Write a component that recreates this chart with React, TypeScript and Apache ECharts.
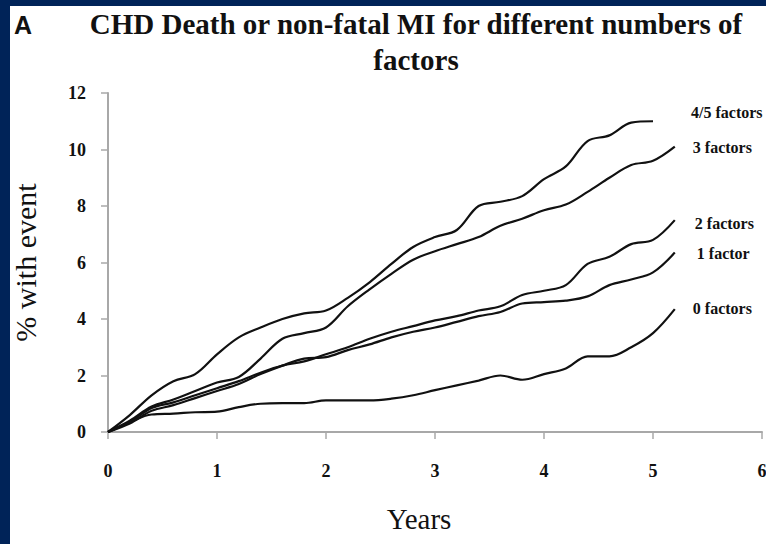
import React, { useEffect, useRef } from "react";
import * as echarts from "echarts";

// Follow-up time in years
const years = [
  0, 0.2, 0.4, 0.6, 0.8, 1.0, 1.2, 1.4, 1.6, 1.8, 2.0, 2.2, 2.4, 2.6, 2.8,
  3.0, 3.2, 3.4, 3.6, 3.8, 4.0, 4.2, 4.4, 4.6, 4.8, 5.0, 5.2,
];

// Cumulative % with event per number of risk factors
const factors45 = [
  0, 0.6, 1.3, 1.8, 2.05, 2.75, 3.35, 3.7, 4.0, 4.2, 4.3, 4.75, 5.3, 5.95, 6.55,
  6.9, 7.15, 8.0, 8.15, 8.35, 8.95, 9.4, 10.3, 10.5, 10.95, 11.0,
];
const factors3 = [
  0, 0.4, 0.9, 1.15, 1.45, 1.75, 1.95, 2.6, 3.3, 3.5, 3.7, 4.45, 5.05, 5.6, 6.1,
  6.4, 6.65, 6.9, 7.3, 7.55, 7.85, 8.05, 8.5, 9.0, 9.45, 9.6, 10.1,
];
const factors2 = [
  0, 0.35, 0.85, 1.05, 1.3, 1.55, 1.8, 2.1, 2.35, 2.5, 2.75, 3.0, 3.3, 3.55,
  3.75, 3.95, 4.1, 4.3, 4.45, 4.85, 5.0, 5.2, 5.95, 6.2, 6.65, 6.8, 7.5,
];
const factors1 = [
  0, 0.3, 0.75, 0.95, 1.2, 1.45, 1.7, 2.05, 2.35, 2.6, 2.65, 2.9, 3.1, 3.35,
  3.55, 3.7, 3.9, 4.1, 4.25, 4.55, 4.6, 4.65, 4.8, 5.2, 5.4, 5.65, 6.35,
];
const factors0 = [
  0, 0.35, 0.62, 0.65, 0.7, 0.72, 0.88, 1.0, 1.02, 1.02, 1.12, 1.12, 1.12, 1.18,
  1.3, 1.48, 1.65, 1.82, 2.0, 1.85, 2.05, 2.25, 2.68, 2.68, 3.0, 3.5, 4.35,
];

const curveNames = ["4/5 factors", "3 factors", "2 factors", "1 factor", "0 factors"];
const curveValues = [factors45, factors3, factors2, factors1, factors0];
const labelOffsets: [number, number][] = [
  [38, -9],
  [18, 1],
  [20, 3],
  [22, 1],
  [18, -1],
];

const xTicks = [0, 1, 2, 3, 4, 5, 6];
const yTicks = [0, 2, 4, 6, 8, 10, 12];

const SERIF = '"Liberation Serif", "Times New Roman", serif';
const INK = "#111111";
const AXIS = "#a8a8a8";

export default function App() {
  const ref = useRef<HTMLDivElement>(null);

  useEffect(() => {
    if (!ref.current) return;
    const chart = echarts.init(ref.current, null, { renderer: "svg" });

    const series = curveValues.map((vals, i) => ({
      name: curveNames[i],
      type: "line",
      data: vals.map((v, j) => [years[j], v]),
      smooth: 0.35,
      showSymbol: false,
      symbol: "none",
      lineStyle: { color: INK, width: 2.2 },
      endLabel: {
        show: true,
        formatter: curveNames[i],
        distance: 0,
        offset: labelOffsets[i],
        fontFamily: SERIF,
        fontWeight: "bold",
        fontSize: 16,
        color: INK,
      },
    }));

    chart.setOption({
      animation: false,
      backgroundColor: "#ffffff",
      title: [
        {
          text: "CHD Death or non-fatal MI for different numbers of\nfactors",
          left: 406,
          top: 0,
          padding: 0,
          textAlign: "center",
          textStyle: {
            fontFamily: SERIF,
            fontWeight: "bold",
            fontSize: 29,
            lineHeight: 36,
            color: INK,
          },
        },
        {
          text: "A",
          left: 4,
          top: 6,
          padding: 0,
          textStyle: {
            fontFamily: '"Liberation Sans", Arial, sans-serif',
            fontWeight: "bold",
            fontSize: 25,
            color: INK,
          },
        },
      ],
      grid: {
        left: 98,
        top: 87,
        right: 4,
        bottom: 112,
        containLabel: false,
        outerBoundsMode: "none",
      },
      xAxis: {
        type: "value",
        min: xTicks[0],
        max: xTicks[xTicks.length - 1],
        interval: 1,
        name: "Years",
        nameLocation: "middle",
        nameGap: 72,
        nameTextStyle: {
          fontFamily: SERIF,
          fontSize: 29,
          color: INK,
          padding: [0, 32, 0, 0],
        },
        axisLine: { lineStyle: { color: AXIS, width: 2 } },
        axisTick: { length: 7, lineStyle: { color: AXIS, width: 1.5 } },
        splitLine: { show: false },
        axisLabel: {
          margin: 30,
          fontFamily: SERIF,
          fontWeight: "bold",
          fontSize: 18,
          color: INK,
          formatter: (v: number) => (xTicks.includes(v) ? String(v) : ""),
        },
      },
      yAxis: {
        type: "value",
        min: yTicks[0],
        max: yTicks[yTicks.length - 1],
        interval: 2,
        name: "% with event",
        nameLocation: "middle",
        nameGap: 68,
        nameTextStyle: {
          fontFamily: SERIF,
          fontSize: 30,
          color: INK,
        },
        axisLine: { show: true, lineStyle: { color: AXIS, width: 2 } },
        axisTick: { show: true, length: 7, lineStyle: { color: AXIS, width: 1.5 } },
        splitLine: { show: false },
        axisLabel: {
          margin: 22,
          fontFamily: SERIF,
          fontWeight: "bold",
          fontSize: 18,
          color: INK,
        },
      },
      series,
    });

    return () => chart.dispose();
  }, []);

  return (
    <div
      style={{
        position: "fixed",
        left: 0,
        top: 0,
        width: 766,
        height: 544,
        background: "#002358",
      }}
    >
      <div
        ref={ref}
        style={{
          position: "absolute",
          left: 10,
          top: 6,
          width: 756,
          height: 538,
          background: "#ffffff",
        }}
      />
    </div>
  );
}
